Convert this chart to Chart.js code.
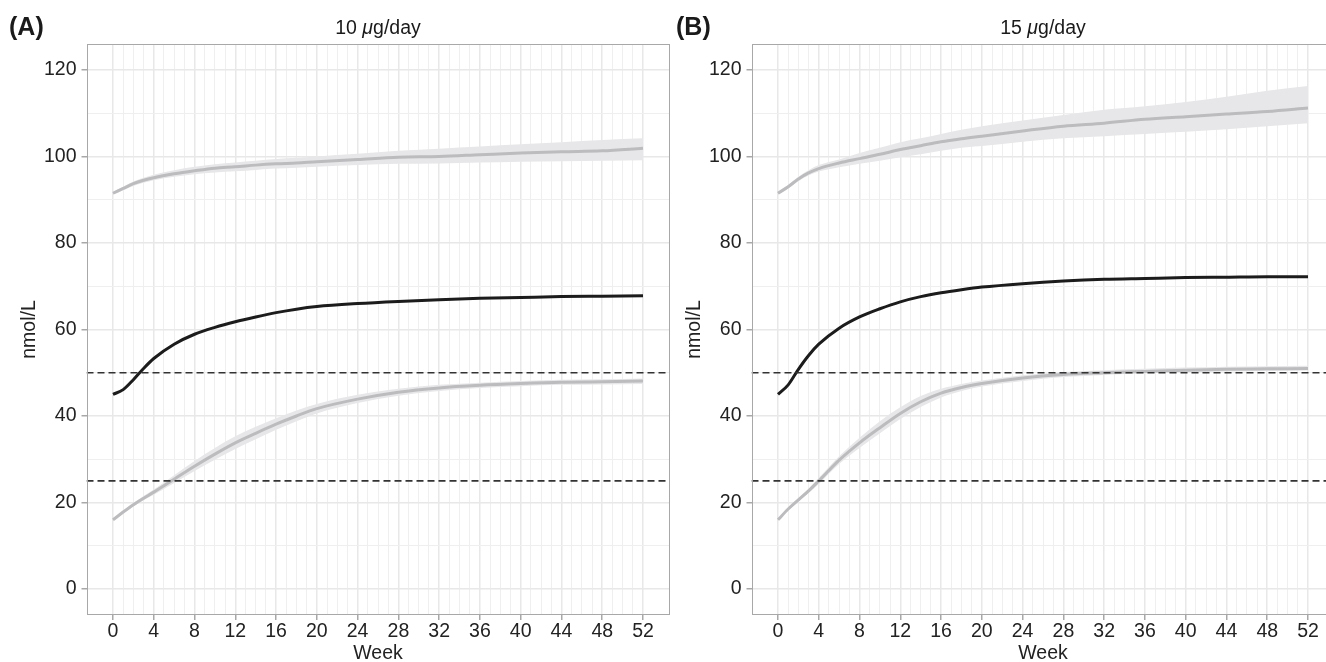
<!DOCTYPE html>
<html>
<head>
<meta charset="utf-8">
<script src="https://cdn.jsdelivr.net/npm/chart.js@4.4.1/dist/chart.umd.min.js"></script>
<style>
  html, body { margin: 0; padding: 0; background: #fff; overflow: hidden; width: 1326px; height: 662px; position: relative;
    font-family: "Liberation Sans", Arial, sans-serif; }
  canvas { position: absolute; top: 0; }
  #chartA { left: 0; }
  #chartB { left: 665px; }
  .tag { position: absolute; top: 14px; font-weight: bold; font-size: 25px; line-height: 25px; color: #1a1a1a; }
  .ttl { position: absolute; top: 17.5px; width: 583px; text-align: center; font-size: 19.5px; line-height: 19px; color: #1a1a1a; }
</style>
</head>
<body>
<canvas id="chartA" width="680" height="662"></canvas>
<canvas id="chartB" width="680" height="662"></canvas>
<div class="tag" id="tagA" style="left:9px"></div>
<div class="ttl" id="ttlA" style="left:86.5px"></div>
<div class="tag" id="tagB" style="left:676px"></div>
<div class="ttl" id="ttlB" style="left:751.5px"></div>
<script>
// dados
const weeks = [0, 1, 2, 3, 4, 6, 8, 10, 12, 14, 16, 18, 20, 24, 28, 32, 36, 40, 44, 48, 52];
const weekTicks = [0, 4, 8, 12, 16, 20, 24, 28, 32, 36, 40, 44, 48, 52];
const yTicks = [0, 20, 40, 60, 80, 100, 120];
const thresholds = [50, 25];
const panelTags = ['(A)', '(B)'];
const doses = ['10', '15'];

// 10 µg/day
const aUpper   = [91.5, 92.6, 93.7, 94.5, 95.1, 96.0, 96.7, 97.3, 97.6, 98.0, 98.3, 98.5, 98.8, 99.3, 99.8, 100.0, 100.4, 100.8, 101.1, 101.3, 101.9];
const aUpperLo = [91.2, 92.2, 93.2, 93.9, 94.5, 95.3, 95.9, 96.3, 96.6, 96.9, 97.2, 97.4, 97.6, 98.0, 98.3, 98.4, 98.6, 98.8, 98.9, 99.0, 99.1];
const aUpperHi = [91.8, 93.0, 94.2, 95.1, 95.8, 96.8, 97.6, 98.2, 98.6, 99.0, 99.4, 99.7, 100.0, 100.6, 101.3, 101.8, 102.3, 102.8, 103.3, 103.8, 104.2];
const aMid     = [45.0, 46.1, 48.4, 51.0, 53.3, 56.6, 58.9, 60.5, 61.8, 62.9, 63.9, 64.7, 65.3, 66.0, 66.5, 66.9, 67.2, 67.4, 67.6, 67.7, 67.8];
const aLower   = [16.0, 17.8, 19.5, 21.0, 22.4, 25.4, 28.4, 31.2, 33.8, 36.0, 38.1, 40.0, 41.7, 43.9, 45.5, 46.5, 47.1, 47.5, 47.8, 47.9, 48.1];
const aLowerLo = [15.8, 17.5, 19.1, 20.5, 21.8, 24.5, 27.3, 29.9, 32.4, 34.6, 36.8, 38.8, 40.6, 43.0, 44.7, 45.8, 46.5, 46.9, 47.2, 47.3, 47.4];
const aLowerHi = [16.2, 18.1, 19.9, 21.5, 23.0, 26.3, 29.6, 32.6, 35.3, 37.5, 39.5, 41.3, 42.8, 44.9, 46.3, 47.2, 47.7, 48.1, 48.4, 48.5, 48.7];

// 15 µg/day
const bUpper   = [91.5, 93.0, 94.8, 96.2, 97.2, 98.5, 99.5, 100.5, 101.6, 102.5, 103.4, 104.1, 104.7, 105.9, 107.0, 107.7, 108.6, 109.2, 109.8, 110.4, 111.2];
const bUpperLo = [91.2, 92.6, 94.3, 95.6, 96.5, 97.5, 98.3, 99.0, 99.8, 100.5, 101.3, 102.0, 102.4, 103.4, 104.2, 104.7, 105.2, 105.7, 106.3, 107.0, 107.7];
const bUpperHi = [91.8, 93.4, 95.3, 96.8, 98.0, 99.3, 100.8, 102.0, 103.3, 104.2, 105.2, 106.2, 107.0, 108.3, 109.6, 110.8, 111.6, 112.6, 113.8, 115.2, 116.3];
const bMid     = [45.0, 47.2, 50.8, 54.0, 56.6, 60.3, 62.9, 64.8, 66.4, 67.6, 68.5, 69.2, 69.8, 70.6, 71.2, 71.6, 71.8, 72.0, 72.1, 72.2, 72.2];
const bLower   = [16.0, 18.5, 20.6, 22.7, 25.0, 29.8, 33.8, 37.3, 40.6, 43.3, 45.3, 46.6, 47.5, 48.8, 49.6, 50.0, 50.3, 50.6, 50.8, 50.9, 51.0];
const bLowerLo = [15.8, 18.2, 20.2, 22.2, 24.3, 28.9, 32.6, 36.0, 39.3, 42.1, 44.3, 45.8, 46.8, 48.1, 49.0, 49.5, 49.8, 50.1, 50.3, 50.4, 50.5];
const bLowerHi = [16.2, 18.8, 21.0, 23.2, 25.7, 30.7, 35.0, 38.8, 42.0, 44.6, 46.3, 47.4, 48.2, 49.4, 50.2, 50.6, 50.9, 51.2, 51.4, 51.5, 51.6];

const xMin = -2.6, xMax = 54.6, yMin = -6, yMax = 126;

Chart.defaults.font.family = '"Liberation Sans", Arial, sans-serif';
Chart.defaults.font.size = 19.5;
Chart.defaults.color = '#222';

const pts = arr => weeks.map((w, i) => ({ x: w, y: arr[i] }));

const frame = {
    id: 'frame',
    afterDraw(chart) {
        const { ctx, chartArea: a } = chart;
        ctx.save();
        ctx.strokeStyle = '#a8a8a8';
        ctx.lineWidth = 1;
        ctx.strokeRect(Math.round(a.left) + 0.5, Math.round(a.top) + 0.5,
            Math.round(a.right - a.left) - 1, Math.round(a.bottom - a.top) - 1);
        ctx.restore();
    }
};

function bandSets(lo, hi) {
    return [
        { data: pts(lo), borderWidth: 0, pointRadius: 0, fill: false, order: 3, cubicInterpolationMode: 'monotone' },
        { data: pts(hi), borderWidth: 0, pointRadius: 0, fill: '-1', backgroundColor: '#e7e7e9', order: 3, cubicInterpolationMode: 'monotone' }
    ];
}

function lineSet(arr, color, order) {
    return { data: pts(arr), borderColor: color, borderWidth: 3, pointRadius: 0, fill: false, order: order, cubicInterpolationMode: 'monotone' };
}

function makePanel(id, upper, upperLo, upperHi, mid, lower, lowerLo, lowerHi) {
    const dashed = thresholds.map(t => ({
        data: [{ x: xMin, y: t }, { x: xMax, y: t }],
        borderColor: '#333', borderWidth: 1.6, borderDash: [7, 4], pointRadius: 0, fill: false, order: 0
    }));
    return new Chart(document.getElementById(id), {
        type: 'line',
        data: {
            datasets: [
                ...dashed,
                lineSet(mid, '#1c1c1c', 1),
                lineSet(upper, '#bcbcbf', 2),
                lineSet(lower, '#bcbcbf', 2),
                ...bandSets(upperLo, upperHi),
                ...bandSets(lowerLo, lowerHi)
            ]
        },
        options: {
            responsive: false,
            animation: false,
            devicePixelRatio: 1,
            layout: { padding: { top: 44, right: 10.5, left: 0, bottom: 0 } },
            plugins: { legend: { display: false }, tooltip: { enabled: false } },
            scales: {
                x: {
                    type: 'linear', min: xMin, max: xMax,
                    afterBuildTicks: s => { s.ticks = []; for (let w = 0; w <= 52; w++) s.ticks.push({ value: w }); },
                    afterFit: s => { s.height = 47; },
                    ticks: {
                        autoSkip: false, maxRotation: 0, padding: 0,
                        callback: v => weekTicks.includes(v) ? String(v) : ''
                    },
                    grid: {
                        tickLength: 5,
                        color: c => weekTicks.includes(c.tick && c.tick.value) ? '#e8e8e8' : '#efefef',
                        lineWidth: c => weekTicks.includes(c.tick && c.tick.value) ? 1.5 : 1,
                        tickColor: c => weekTicks.includes(c.tick && c.tick.value) ? '#a8a8a8' : 'rgba(0,0,0,0)'
                    },
                    border: { display: false },
                    title: { display: true, text: 'Week', font: { size: 19.5, lineHeight: 0.9 }, padding: 0, color: '#222' }
                },
                y: {
                    type: 'linear', min: yMin, max: yMax,
                    afterBuildTicks: s => { s.ticks = []; for (let v = 0; v <= 120; v += 5) s.ticks.push({ value: v }); },
                    afterFit: s => { s.width = 86.5; },
                    ticks: {
                        padding: 5,
                        callback: v => yTicks.includes(v) ? String(v) : ''
                    },
                    grid: {
                        tickLength: 5,
                        color: c => yTicks.includes(c.tick && c.tick.value) ? '#e8e8e8' : '#efefef',
                        lineWidth: c => yTicks.includes(c.tick && c.tick.value) ? 1.5 : 1,
                        tickColor: c => yTicks.includes(c.tick && c.tick.value) ? '#a8a8a8' : 'rgba(0,0,0,0)'
                    },
                    border: { display: false },
                    title: { display: true, text: 'nmol/L', font: { size: 19.5 }, padding: { top: 18.3, bottom: 0 }, color: '#222' }
                }
            }
        },
        plugins: [frame]
    });
}

makePanel('chartA', aUpper, aUpperLo, aUpperHi, aMid, aLower, aLowerLo, aLowerHi);
makePanel('chartB', bUpper, bUpperLo, bUpperHi, bMid, bLower, bLowerLo, bLowerHi);

document.getElementById('tagA').textContent = panelTags[0];
document.getElementById('tagB').textContent = panelTags[1];
document.getElementById('ttlA').innerHTML = doses[0] + ' <i>\u03bc</i>g/day';
document.getElementById('ttlB').innerHTML = doses[1] + ' <i>\u03bc</i>g/day';
</script>
</body>
</html>
